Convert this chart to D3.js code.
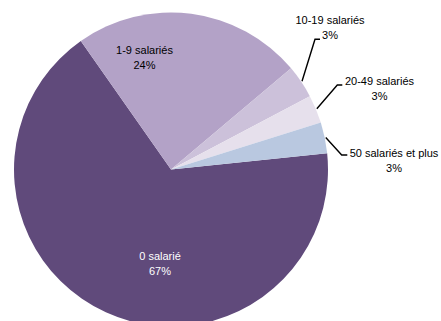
<!DOCTYPE html>
<html><head><meta charset="utf-8">
<script src="https://cdn.jsdelivr.net/npm/d3@7"></script>
<style>html,body{margin:0;padding:0;background:#fff;overflow:hidden}</style>
</head><body>
<svg id="c" width="441" height="321"></svg>
<script>
const categories = ["0 salarié", "1-9 salariés", "10-19 salariés", "20-49 salariés", "50 salariés et plus"];
const values = [66.9, 23.6, 3.4, 2.9, 3.2];
const pctLabels = ["67%", "24%", "3%", "3%", "3%"];
const colors = ["#604A7B", "#B3A2C7", "#CCC1DA", "#E6E0EC", "#B9C8E0"];

const svg = d3.select("#c");
const cx = 171, cy = 169.5, R = 157;
const start = 84.1 * Math.PI / 180;
const pie = d3.pie().sort(null).value(d => d).startAngle(start).endAngle(start + 2 * Math.PI);
const arcs = pie(values);
const arc = d3.arc().innerRadius(0).outerRadius(R);
const g = svg.append("g").attr("transform", `translate(${cx},${cy})`);
g.selectAll("path").data(arcs).join("path").attr("d", arc).attr("fill", (d, i) => colors[i]);

const font = "'Liberation Sans', Arial, sans-serif";
const labelPos = [
  {x: 160, y: 256, fill: "#fff"},
  {x: 144.5, y: 50, fill: "#000"},
  {x: 330, y: 20, fill: "#000"},
  {x: 379.5, y: 81, fill: "#000"},
  {x: 394, y: 152.5, fill: "#000"}
];
const lh = 15;
categories.forEach((c, i) => {
  const p = labelPos[i];
  const t = svg.append("text").attr("text-anchor", "middle")
    .attr("font-family", font).attr("font-size", 11).attr("fill", p.fill);
  t.append("tspan").attr("x", p.x).attr("y", p.y + 4).text(c);
  t.append("tspan").attr("x", p.x).attr("y", p.y + 4 + lh).text(pctLabels[i]);
});

const leaders = [
  {i: 2, end: [315, 39.3], tail: [320, 39.3]},
  {i: 3, end: [337.3, 85], tail: [342.3, 85]},
  {i: 4, end: [341.7, 155], tail: [347.3, 155]}
];
leaders.forEach(l => {
  const a = arcs[l.i];
  const mid = (a.startAngle + a.endAngle) / 2;
  const r0 = R + 1;
  const sx = cx + r0 * Math.sin(mid), sy = cy - r0 * Math.cos(mid);
  svg.append("polyline")
    .attr("points", [[sx, sy], l.end, l.tail].map(p => p.join(",")).join(" "))
    .attr("fill", "none").attr("stroke", "#000").attr("stroke-width", 1.4);
});
</script>
</body></html>
